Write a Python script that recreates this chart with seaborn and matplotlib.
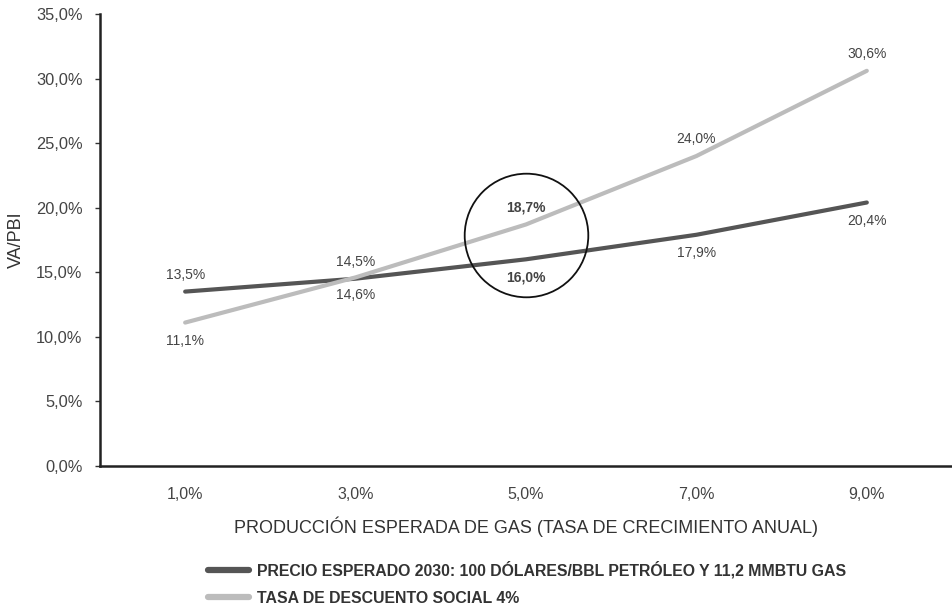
import pandas as pd
import numpy as np
import matplotlib
matplotlib.use("Agg")
import matplotlib.pyplot as plt
import seaborn as sns
from matplotlib.lines import Line2D

# data
categorias = ["1,0%", "3,0%", "5,0%", "7,0%", "9,0%"]
precio_2030 = [13.5, 14.5, 16.0, 17.9, 20.4]
tasa_social = [11.1, 14.6, 18.7, 24.0, 30.6]
serie_1 = "PRECIO ESPERADO 2030: 100 DÓLARES/BBL PETRÓLEO Y 11,2 MMBTU GAS"
serie_2 = "TASA DE DESCUENTO SOCIAL 4%"
y_ticks = [0, 5, 10, 15, 20, 25, 30, 35]

df = pd.DataFrame({
    "x": list(range(len(categorias))) * 2,
    "va": precio_2030 + tasa_social,
    "serie": [serie_1] * 5 + [serie_2] * 5,
})

sns.set_style("white")
plt.rcParams["font.family"] = ["Liberation Sans", "DejaVu Sans"]

colores = {serie_1: "#555555", serie_2: "#bcbcbc"}

fig = plt.figure(figsize=(9.52, 6.09), dpi=100)
ax = fig.add_axes([0.105, 0.235, 0.895, 0.742])

sns.lineplot(data=df, x="x", y="va", hue="serie", palette=colores,
             linewidth=3, ax=ax, legend=False)

ax.set_xlim(-0.5, len(categorias) - 0.5)
ax.set_ylim(0, 35)
ax.set_yticks(y_ticks)
ax.set_yticklabels([f"{v:.1f}%".replace(".", ",") for v in y_ticks],
                   fontsize=11.8, color="#444444")
ax.set_xticks(np.arange(len(categorias)))
ax.set_xticklabels(categorias, fontsize=11.5, color="#444444")
ax.tick_params(axis="x", length=0, pad=15)
ax.set_xticks(np.arange(len(categorias) + 1) - 0.5, minor=True)
ax.tick_params(axis="x", which="minor", direction="out", length=4, width=1, color="#333333")
ax.tick_params(axis="y", direction="out", length=3.5, width=1, color="#333333", left=True, pad=9)

for s in ["top", "right"]:
    ax.spines[s].set_visible(False)
for s in ["left", "bottom"]:
    ax.spines[s].set_color("#222222")
    ax.spines[s].set_linewidth(1.8)

ax.set_ylabel("VA/PBI", fontsize=13, color="#333333", labelpad=8)
ax.set_xlabel("PRODUCCIÓN ESPERADA DE GAS (TASA DE CRECIMIENTO ANUAL)",
              fontsize=13, color="#333333", labelpad=11)

# etiquetas de valores
arriba_1 = [True, True, False, False, False]
arriba_2 = [False, False, True, True, True]
negrita = [False, False, True, False, False]
for i in range(len(categorias)):
    for vals, arriba in ((precio_2030, arriba_1), (tasa_social, arriba_2)):
        off = 12 if arriba[i] else -13
        ax.annotate(f"{vals[i]:.1f}%".replace(".", ","), (i, vals[i]),
                    xytext=(0, off), textcoords="offset points",
                    ha="center", va="center", fontsize=10, color="#444444",
                    fontweight="bold" if negrita[i] else "normal")

# circulo alrededor de 5,0%
centro = (precio_2030[2] + tasa_social[2]) / 2 + 0.5
ax.plot([2], [centro], marker="o", markersize=89, markerfacecolor="none",
        markeredgecolor="#111111", markeredgewidth=1.3, linestyle="none")

handles = [Line2D([], [], color=colores[serie_1], linewidth=4.5, solid_capstyle="round"),
           Line2D([], [], color=colores[serie_2], linewidth=4.5, solid_capstyle="round")]
fig.legend(handles, [serie_1, serie_2], loc="upper left",
           bbox_to_anchor=(0.203, 0.102), frameon=False, handlelength=2.6,
           handletextpad=0.55, labelspacing=0.75,
           prop={"weight": "bold", "size": 11.4})
for t in fig.legends[0].get_texts():
    t.set_color("#333333")

fig.savefig("out.png", dpi=100)
